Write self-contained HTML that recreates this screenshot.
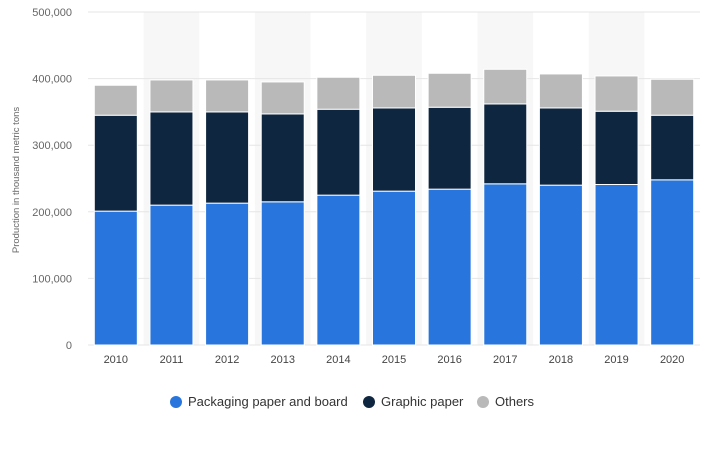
<!DOCTYPE html>
<html><head><meta charset="utf-8"><style>
body{margin:0;background:#fff;font-family:"Liberation Sans",sans-serif}
svg text{font-family:"Liberation Sans",sans-serif}
</style></head><body>
<svg id="chart" width="711" height="452"></svg>
<script>
const years=["2010","2011","2012","2013","2014","2015","2016","2017","2018","2019","2020"];
const packaging=[201,210,213,215,225,231,234,242,240,241,248];
const graphic=[144,140,137,132,129,125,123,120,116,110,97];
const others=[45,48,48,48,48,49,51,52,51,53,54];
const yTicks=[0,100000,200000,300000,400000,500000];
const tickLabels=["0","100,000","200,000","300,000","400,000","500,000"];
const NS="http://www.w3.org/2000/svg";
const svg=document.getElementById('chart');
const L=88,R=700,T=12,B=345;
const colW=(R-L)/years.length, barW=43;
const y=v=>B-(v/500000)*(B-T);
const x=i=>L+i*colW;
function mk(t,a,p){const e=document.createElementNS(NS,t);for(const k in a)e.setAttribute(k,a[k]);(p||svg).appendChild(e);return e;}
years.forEach((yr,i)=>{if(i%2===1){const b=mk('rect',{x:x(i),y:T,width:colW,height:B-T,fill:'#f7f7f7'});

}});
yTicks.forEach((v,i)=>{const g=mk('line',{x1:L,x2:R,y1:y(v),y2:y(v),stroke:'#e6e6e6'});


const t=mk('text',{x:72,y:y(v)+4,'text-anchor':'end','font-size':11,fill:'#666'});t.textContent=tickLabels[i];

});
const series=[[packaging,'#2876dd','packaging'],[graphic,'#0f2640','graphic'],[others,'#b9b9b9','others']];
years.forEach((yr,i)=>{let base=0;const cx=x(i)+(colW-barW)/2;
series.forEach(([arr,c,n])=>{const v=arr[i]*1000;const r=mk('rect',{x:cx,y:y(base+v),width:barW,height:y(base)-y(base+v),fill:c,stroke:'#fff','stroke-width':1});


base+=v;});
const t=mk('text',{x:x(i)+colW/2,y:363,'text-anchor':'middle','font-size':11,fill:'#444'});t.textContent=yr;

});
const yt=mk('text',{x:0,y:0,transform:'translate(19,180) rotate(-90)','text-anchor':'middle','font-size':9.5,fill:'#666'});yt.textContent='Production in thousand metric tons';


const leg=[['Packaging paper and board','#2876dd',176],['Graphic paper','#0f2640',369],['Others','#b9b9b9',483]];
leg.forEach(([n,c,lx])=>{const g=mk('g',{});


mk('circle',{cx:lx,cy:402,r:6,fill:c},g);const t=mk('text',{x:lx+12,y:406,'font-size':13,fill:'#333'},g);t.textContent=n;});
</script>
</body></html>
